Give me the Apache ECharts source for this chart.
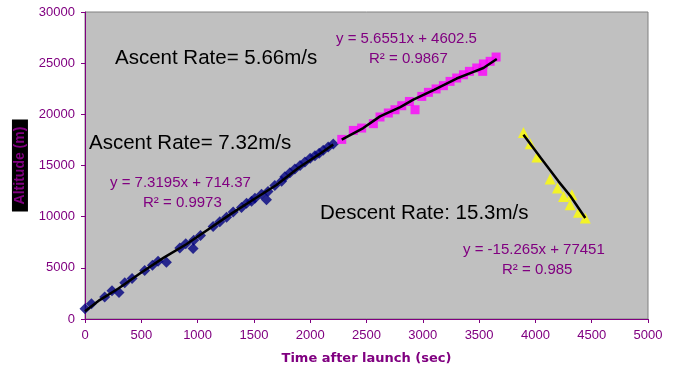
<!DOCTYPE html>
<html><head><meta charset="utf-8">
<script src="https://cdn.jsdelivr.net/npm/echarts@6/dist/echarts.min.js"></script>
<style>html,body{margin:0;padding:0;background:#fff}#c{width:673px;height:372px}</style>
</head><body><div id="c"></div>
<script>
// Ascent phase 1 (blue diamonds): [time s, altitude m]
const ascent1 = [[0,1000],[57,1500],[175,2150],[240,2750],[302,2600],[353,3550],[418,3950],[530,4750],[599,5250],[649,5650],[723,5550],[842,6950],[895,7350],[960,6900],[966,7700],[1026,8150],[1138,9050],[1197,9500],[1257,9950],[1316,10450],[1390,10900],[1435,11300],[1479,11500],[1509,11800],[1568,12200],[1612,11650],[1625,12450],[1686,13050],[1746,13450],[1775,13900],[1820,14300],[1864,14650],[1910,15000],[1953,15350],[2000,15700],[2042,15950],[2080,16200],[2116,16500],[2160,16800],[2205,17100]];
// Ascent phase 2 (magenta squares)
const ascent2 = [[2280,17550],[2383,18430],[2457,18660],[2561,19090],[2620,19740],[2694,20130],[2753,20450],[2813,20840],[2881,21260],[2931,20450],[2991,21750],[3050,22150],[3118,22480],[3183,22800],[3242,23220],[3301,23550],[3361,23870],[3414,24200],[3479,24530],[3532,24200],[3538,24920],[3598,25180],[3651,25600]];
// Descent (yellow triangles)
const descent = [[3894,18230],[3954,17130],[4013,15830],[4131,13680],[4196,12800],[4250,11980],[4309,11170],[4324,12150],[4383,10420],[4443,9870]];
// Trend lines
const trend1 = [[0,750],[130,1850],[300,3000],[500,4550],[700,6000],[900,7300],[1100,8800],[1300,10300],[1500,11700],[1700,13100],[1900,14800],[2100,16250],[2205,17050]];
const trend2 = [[2280,17520],[2471,18660],[2620,19800],[2800,20700],[2916,21430],[3100,22400],[3300,23500],[3450,24150],[3538,24530],[3657,25400]];
const trend3 = [[3894,18010],[4050,15700],[4205,13450],[4309,12050],[4443,9870]];
const xTicks = [0,500,1000,1500,2000,2500,3000,3500,4000,4500,5000];
const yTicks = [0,5000,10000,15000,20000,25000,30000];

const purple = '#800080';
const chart = echarts.init(document.getElementById('c'), null, {renderer:'canvas'});
const axisCommon = {
  axisLine:{show:true,onZero:false,lineStyle:{color:purple,width:1}},
  axisTick:{show:true,length:4,lineStyle:{color:purple}},
  splitLine:{show:false}
};
const lbl = {color:purple,fontFamily:'Liberation Sans, Arial',fontSize:13,margin:10,formatter:v=>String(v)};
const txt = (x,y,t,size,color)=>({type:'text',left:x,top:y,style:{text:t,fontFamily:'Liberation Sans, Arial',fontSize:size,fill:color}});
chart.setOption({
  animation:false,
  grid:{left:85,top:12,right:25,bottom:53,show:true,backgroundColor:'#C0C0C0',borderColor:'#808080',borderWidth:1},
  xAxis:Object.assign({type:'value',min:xTicks[0],max:xTicks[xTicks.length-1],interval:xTicks[1]-xTicks[0],
    name:'Time after launch (sec)',nameLocation:'middle',nameGap:33,
    nameTextStyle:{color:purple,fontFamily:'DejaVu Sans',fontWeight:'bold',fontSize:13},axisLabel:lbl},axisCommon),
  yAxis:Object.assign({type:'value',min:yTicks[0],max:yTicks[yTicks.length-1],interval:yTicks[1]-yTicks[0],
    name:'Altitude (m)',nameLocation:'middle',nameGap:51,nameRotate:90,
    nameTextStyle:{color:purple,fontFamily:'Liberation Sans, Arial',fontWeight:'bold',fontSize:14,backgroundColor:'#000',padding:[1,7,1,7]},axisLabel:lbl},axisCommon),
  series:[
    {type:'scatter',data:ascent1,symbol:'diamond',symbolSize:11,itemStyle:{color:'#000080'},z:3},
    {type:'scatter',data:ascent2,symbol:'rect',symbolSize:9,itemStyle:{color:'#FF00FF'},z:3},
    {type:'scatter',data:descent,symbol:'triangle',symbolSize:11,itemStyle:{color:'#FFFF00'},z:3},
    {type:'line',data:trend1,showSymbol:false,symbol:'none',lineStyle:{color:'#000',width:2.5},z:4},
    {type:'line',data:trend2,showSymbol:false,symbol:'none',lineStyle:{color:'#000',width:2.5},z:4},
    {type:'line',data:trend3,showSymbol:false,symbol:'none',lineStyle:{color:'#000',width:2.5},z:4}
  ],
  graphic:[
    txt(115,48,'Ascent Rate= 5.66m/s',20.5,'#000'),
    txt(89,133,'Ascent Rate= 7.32m/s',20.5,'#000'),
    txt(320,203,'Descent Rate: 15.3m/s',20.5,'#000'),
    txt(336,31,'y = 5.6551x + 4602.5',15,purple),
    txt(369,51,'R² = 0.9867',15,purple),
    txt(110,175,'y = 7.3195x + 714.37',15,purple),
    txt(143,195,'R² = 0.9973',15,purple),
    txt(463,242,'y = -15.265x + 77451',15,purple),
    txt(502,262,'R² = 0.985',15,purple)
  ]
});
</script></body></html>
